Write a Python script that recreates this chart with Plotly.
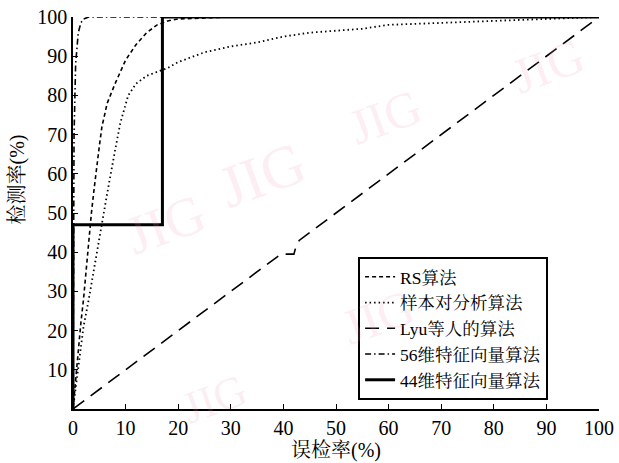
import plotly.graph_objects as go

rs_x = [0, 0.5, 1, 1.5, 2, 2.5, 3, 3.5, 4, 4.5, 5, 5.5, 6.5, 8, 10, 12, 14, 16, 18, 20, 25, 30, 34]
rs_y = [0, 8, 15, 22, 28, 36, 44, 50, 56, 62, 67, 72, 78, 83, 89, 93, 96, 98, 99, 99.5, 99.8, 100, 100]

pair_x = [0, 0.5, 1, 1.5, 2, 3, 4, 5, 5.5, 6.5, 8, 9, 10.5, 12, 14, 16, 18, 20, 25, 30, 35, 40, 45, 50, 55, 60, 70, 80, 90, 100]
pair_y = [0, 5, 10, 16, 21, 28, 36, 43, 47, 55, 66, 73, 80, 83, 85, 86, 87, 88.5, 91, 92.5, 93.5, 95, 96, 96.5, 97, 98, 98.5, 99, 99.5, 100]

lyu_x = [0, 38, 39.5, 42, 42.3, 43, 100]
lyu_y = [0, 38, 39.5, 39.5, 41, 43, 100]

f56_x = [0, 0.2, 0.5, 1, 1.5, 2, 3, 17]
f56_y = [0, 70, 88, 96, 98.5, 99.5, 100, 100]

f44_x = [0, 0, 17, 17, 100]
f44_y = [0, 47, 47, 100, 100]

names = ["RS算法", "样本对分析算法", "Lyu等人的算法", "56维特征向量算法", "44维特征向量算法"]
x_ticks = [0, 10, 20, 30, 40, 50, 60, 70, 80, 90, 100]
y_ticks = [10, 20, 30, 40, 50, 60, 70, 80, 90, 100]

FONT = "Liberation Serif, Noto Serif CJK SC, Noto Sans CJK SC, serif"

fig = go.Figure()
fig.add_trace(go.Scatter(x=rs_x, y=rs_y, mode="lines", name=names[0],
                         line=dict(color="black", width=1.6, dash="4px,3px")))
fig.add_trace(go.Scatter(x=pair_x, y=pair_y, mode="lines", name=names[1],
                         line=dict(color="black", width=1.8, dash="1.5px,3px")))
fig.add_trace(go.Scatter(x=lyu_x, y=lyu_y, mode="lines", name=names[2],
                         line=dict(color="black", width=1.6, dash="14px,8px")))
fig.add_trace(go.Scatter(x=f56_x, y=f56_y, mode="lines", name=names[3],
                         line=dict(color="black", width=1.6, dash="6px,3px,1.5px,3px")))
fig.add_trace(go.Scatter(x=f44_x, y=f44_y, mode="lines", name=names[4],
                         line=dict(color="black", width=3)))

# faint watermarks
marks = [(0.36, 0.72, 60), (0.68, 0.85, 50), (0.99, 0.98, 50), (0.08, 0.47, 55),
         (0.58, 0.13, 50), (0.19, -0.07, 45)]
for mx, my, ms in marks:
    fig.add_annotation(x=mx, y=my, xref="paper", yref="paper", text="JIG",
                       showarrow=False, textangle=-20,
                       font=dict(family=FONT, size=ms, color="rgba(235,150,175,0.16)"))

fig.add_annotation(x=-0.105, y=0.585, xref="paper", yref="paper", text="检测率(%)",
                   showarrow=False, textangle=-90, xanchor="center", yanchor="middle",
                   font=dict(family=FONT, size=20))

fig.update_layout(
    width=619, height=463,
    margin=dict(l=73, r=20, t=17, b=54, autoexpand=False),
    paper_bgcolor="white", plot_bgcolor="white",
    font=dict(family=FONT, size=18, color="black"),
    showlegend=True,
    legend=dict(x=0.542, y=0.388, xanchor="left", yanchor="top",
                bordercolor="black", borderwidth=2, bgcolor="rgba(255,255,255,0)",
                font=dict(family=FONT, size=17.5), tracegroupgap=0, itemwidth=30),
)
fig.update_xaxes(range=[0, 100], tickvals=x_ticks, ticks="inside", ticklen=5,
                 showline=True, linecolor="black", linewidth=1.5, tickcolor="black",
                 showgrid=False, zeroline=False,
                 tickfont=dict(family=FONT, size=20),
                 title=dict(text="误检率(%)", font=dict(family=FONT, size=20), standoff=2))
fig.update_yaxes(range=[0, 100], tickvals=y_ticks, ticks="inside", ticklen=5,
                 showline=True, linecolor="black", linewidth=1.5, tickcolor="black",
                 showgrid=False, zeroline=False,
                 tickfont=dict(family=FONT, size=20))

fig.write_html("out.html", config={"displayModeBar": False},
               post_script="document.body.style.margin='0';document.body.style.overflow='hidden';")
